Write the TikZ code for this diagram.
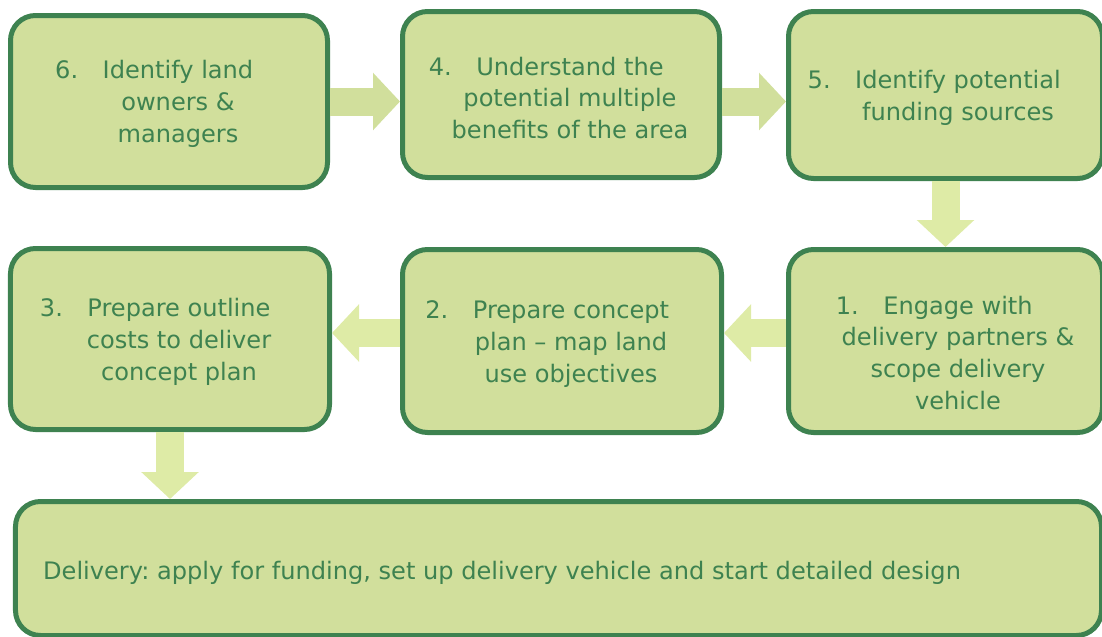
\documentclass[tikz,border=0pt]{standalone}
\usepackage{fontspec}
\setmainfont{DejaVu Sans}
\usetikzlibrary{arrows.meta,calc}
\frenchspacing

\definecolor{boxfill}{HTML}{D1DF9C}
\definecolor{boxline}{HTML}{3E8250}
\definecolor{arrowfill}{HTML}{DEEBA6}
\newcommand{\stepnum}[1]{\llap{\makebox[0.95cm][l]{#1.}}}
\tikzset{
  stepbox/.style={draw=boxline, fill=boxfill, line width=0.1cm, rounded corners=0.5cm},
  steptext/.style={text=boxline, align=center, font=\fontsize{13.7}{18.2}\selectfont},
  flow/.style={line width=0.56cm, -{Triangle[width=1.12cm,length=0.54cm]}},
}

\begin{document}
\begin{tikzpicture}[>=Latex]
  \useasboundingbox (0,0) rectangle (22.04,-12.72);

  \node[stepbox, minimum width=6.34cm, minimum height=3.44cm] (b6) at (3.38,-2.03) {};
  \node[stepbox, minimum width=6.34cm, minimum height=3.32cm] (b4) at (11.22,-1.89) {};
  \node[stepbox, minimum width=6.28cm, minimum height=3.34cm] (b5) at (18.91,-1.90) {};
  \node[stepbox, minimum width=6.28cm, minimum height=3.66cm] (b1) at (18.91,-6.82) {};
  \node[stepbox, minimum width=6.38cm, minimum height=3.66cm] (b2) at (11.24,-6.82) {};
  \node[stepbox, minimum width=6.38cm, minimum height=3.62cm] (b3) at (3.40,-6.78) {};
  \node[stepbox, minimum width=21.72cm, minimum height=2.68cm] (dl) at (11.17,-11.37) {};

  \node[steptext] (t6) at (3.56,-2.08) {\stepnum{6}Identify land\\owners \&\\managers};
  \node[steptext] (t4) at (11.40,-1.96) {\stepnum{4}Understand the\\potential multiple\\benefits of the area};
  \node[steptext] (t5) at (19.16,-1.95) {\stepnum{5}Identify potential\\funding sources};
  \node[steptext] (t1) at (19.16,-7.06) {\stepnum{1}Engage with\\delivery partners \&\\scope delivery\\vehicle};
  \node[steptext] (t2) at (11.42,-6.88) {\stepnum{2}Prepare concept\\plan – map land\\use objectives};
  \node[steptext] (t3) at (3.58,-6.84) {\stepnum{3}Prepare outline\\costs to deliver\\concept plan};
  \node[steptext, anchor=west] (td) at (0.74,-11.46) {Delivery: apply for funding, set up delivery vehicle and start detailed design};

  \draw[flow, boxfill] (b6.east) -- (b6.east -| b4.west);
  \draw[flow, boxfill] (b4.east |- b6.east) -- (b5.west |- b6.east);
  \draw[flow, arrowfill] (b5.south) -- (b1.north);
  \draw[flow, arrowfill] ([yshift=0.16cm]b1.west) -- ([yshift=0.16cm]b2.east);
  \draw[flow, arrowfill] ([yshift=0.16cm]b2.west) -- ([yshift=0.16cm]b2.west -| b3.east);
  \draw[flow, arrowfill] (b3.south) -- (b3.south |- dl.north);
\end{tikzpicture}
\end{document}
